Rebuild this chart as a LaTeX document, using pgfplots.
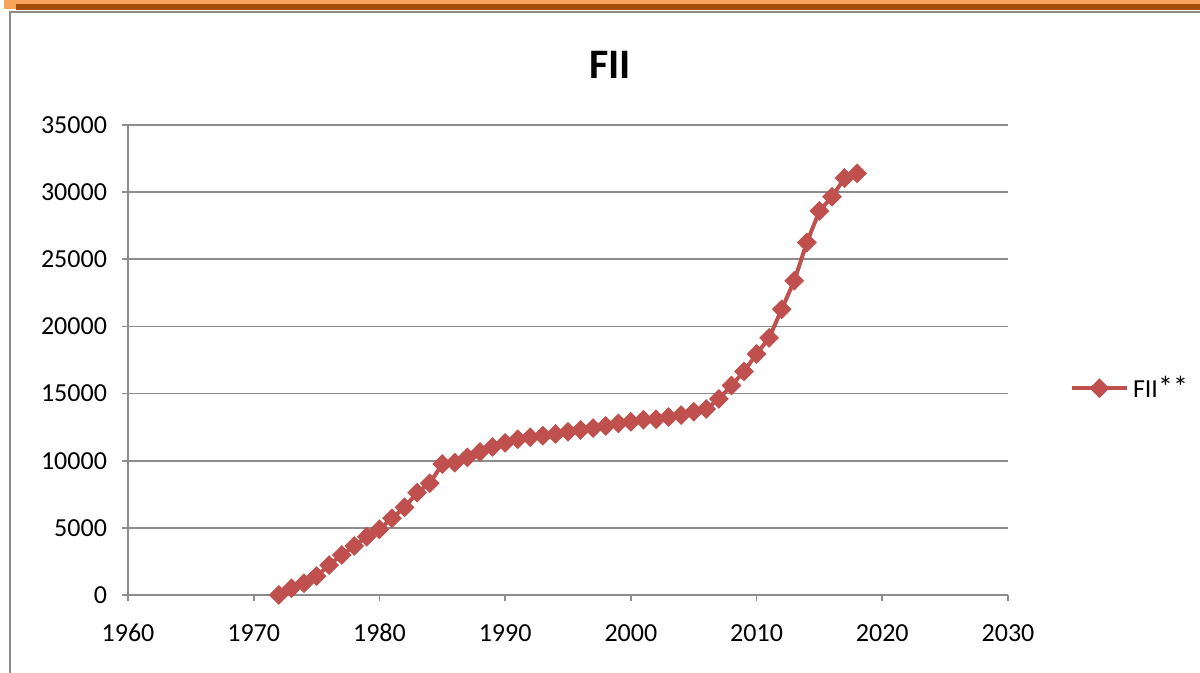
\documentclass[border=0pt]{standalone}
\usepackage{pgfplots}
\pgfplotsset{compat=1.18}
\usepackage{fontspec}
\setmainfont{Carlito}
\definecolor{fiired}{HTML}{C0504D}
\definecolor{gridgray}{HTML}{8C8C8C}
\begin{document}
\begin{tikzpicture}
\path[use as bounding box] (0pt,0pt) rectangle (600pt,336.5pt);
\fill[color={rgb,255:red,247;green,163;blue,92}] (2pt,332pt) rectangle (600pt,336.5pt);
\fill[color={rgb,255:red,166;green,76;blue,10}] (8pt,331.5pt) rectangle (600pt,334.3pt);
\draw[gridgray, line width=1pt] (5pt,0pt) -- (5pt,330.5pt) -- (600pt,330.5pt);
\node[font=\fontsize{21}{24}\selectfont\bfseries] at (305pt,304pt) {FII};
\begin{axis}[
  at={(64pt,39pt)}, anchor=south west,
  scale only axis, width=440pt, height=235pt,
  xmin=1960, xmax=2030, ymin=0, ymax=35000,
  xtick={1960,1970,...,2030}, ytick={0,5000,...,35000},
  scaled y ticks=false, scaled x ticks=false,
  axis x line*=bottom, axis y line*=left,
  axis line style={gridgray, line width=0.8pt, -},
  ymajorgrids, grid style={gridgray, line width=0.8pt},
  tick style={gridgray, line width=0.8pt},
  tick align=outside, major tick length=3pt,
  /pgf/number format/1000 sep={},
  /pgf/number format/assume math mode=true,
  tick label style={font=\fontsize{13}{15}\selectfont},
  yticklabel style={xshift=-4pt},
  xticklabel style={anchor=north, text height=1.4ex, text depth=0.2ex, yshift=-10pt},
  legend style={at={(1.07,0.44)}, anchor=west, draw=none, fill=none,
    font=\fontsize{13}{15}\selectfont, inner sep=0pt},
  legend image code/.code={\draw[#1, mark repeat=2, mark phase=2] plot coordinates {(0pt,0pt) (13.75pt,0pt) (27.5pt,0pt)};},
]
\addplot[fiired, line width=2pt, mark=square*, mark size=2.5pt, mark options={rotate=45, solid}] coordinates {
(1972,0) (1973,500) (1974,870) (1975,1410) (1976,2230) (1977,2980)
(1978,3650) (1979,4340) (1980,4890) (1981,5710) (1982,6530) (1983,7620)
(1984,8320) (1985,9750) (1986,9850) (1987,10250) (1988,10650) (1989,11020)
(1990,11330) (1991,11600) (1992,11750) (1993,11860) (1994,11990) (1995,12160)
(1996,12290) (1997,12430) (1998,12590) (1999,12780) (2000,12900) (2001,13050)
(2002,13080) (2003,13250) (2004,13400) (2005,13650) (2006,13850) (2007,14600)
(2008,15600) (2009,16650) (2010,17950) (2011,19150) (2012,21280) (2013,23400)
(2014,26250) (2015,28600) (2016,29650) (2017,31050) (2018,31400)
};
\addlegendentry{FII{\fontsize{15}{15}\selectfont**}}
\end{axis}
\end{tikzpicture}
\end{document}
